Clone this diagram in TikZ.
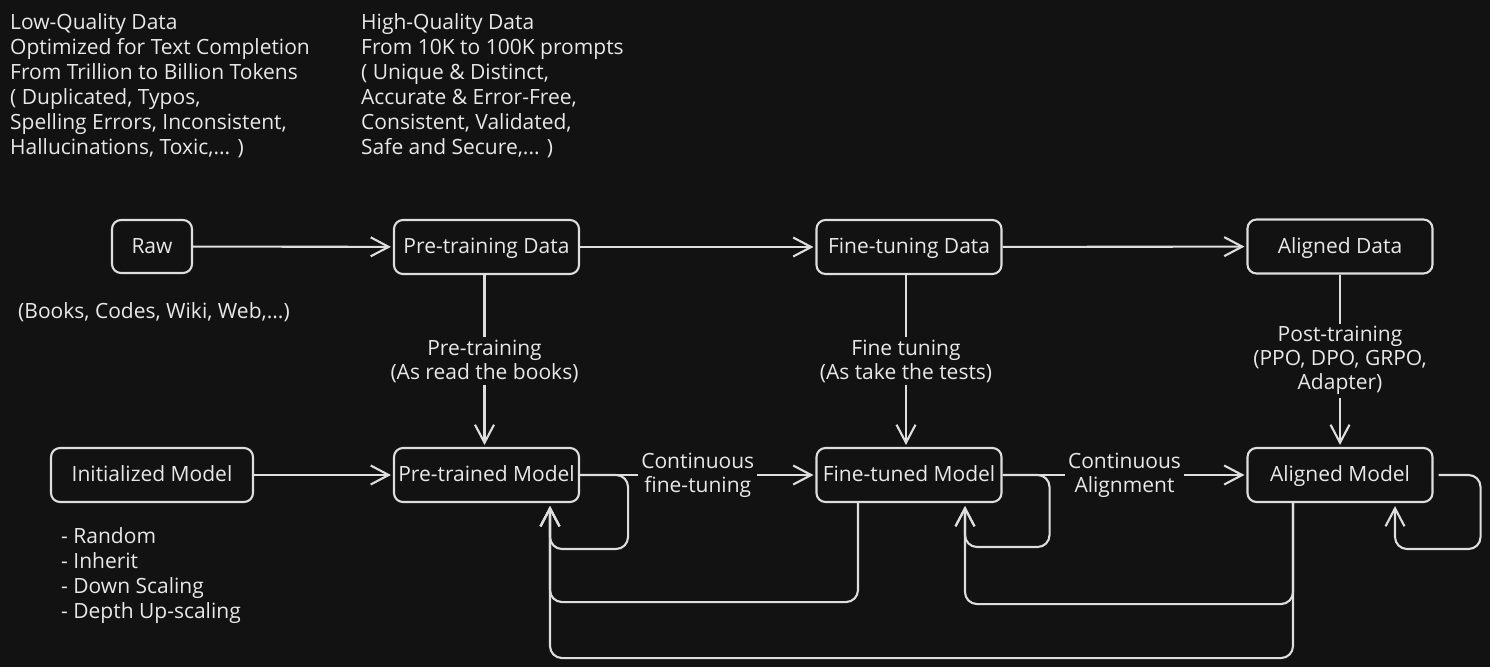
\documentclass[tikz,border=0pt]{standalone}
\usepackage{fontspec}
\setmainfont{Open Sans}
\usetikzlibrary{arrows.meta}
\definecolor{bg}{HTML}{121212}
\definecolor{ink}{HTML}{DEDEDE}
\definecolor{txt}{HTML}{E8E8E8}
\begin{document}
\begin{tikzpicture}[x=1pt,y=-1pt,
  every node/.style={text=txt, font=\fontsize{21}{25}\selectfont},
  box/.style={draw=ink, line width=2.1pt, rounded corners=9pt, minimum height=54pt, minimum width=185pt, inner sep=0pt, text height=15pt, text depth=2pt},
  tip/.style={-{Straight Barb[length=18pt,width=19pt,line width=2.1pt]}},
  link/.style={draw=ink, line width=2.1pt, tip, shorten >=2pt},
  wire/.style={draw=ink, line width=2.1pt, rounded corners=12pt, tip, shorten >=3pt},
  lbl/.style={fill=bg, align=center, inner sep=3pt, font=\fontsize{21}{24}\selectfont},
  note/.style={align=left, inner sep=0pt, anchor=north west}]
\fill[bg] (0,0) rectangle (1490,667);
\useasboundingbox (0,0) rectangle (1490,667);

% texts
\node[note] (lowq) at (10,13) {Low-Quality Data\\Optimized for Text Completion\\From Trillion to Billion Tokens\\( Duplicated, Typos,\\Spelling Errors, Inconsistent,\\Hallucinations, Toxic,... )};
\node[note] (highq) at (361,13) {High-Quality Data\\From 10K to 100K prompts\\( Unique \& Distinct,\\Accurate \& Error-Free,\\Consistent, Validated,\\Safe and Secure,... )};
\node[inner sep=0pt, anchor=base west] (src) at (18,318) {(Books, Codes, Wiki, Web,...)};
\node[note] (inits) at (61,527) {- Random\\- Inherit\\- Down Scaling\\- Depth Up-scaling};

% boxes
\node[box, minimum width=80pt, minimum height=53pt] (raw) at (152,246.5) {Raw};
\node[box] (ptd) at (486.5,247) {Pre-training Data};
\node[box] (ftd) at (909,247) {Fine-tuning Data};
\node[box] (ald) at (1340,246.5) {Aligned Data};
\node[box, minimum width=202pt] (init) at (152,475) {Initialized Model};
\node[box] (ptm) at (486.5,475) {Pre-trained Model};
\node[box] (ftm) at (909,475) {Fine-tuned Model};
\node[box] (alm) at (1340,475) {Aligned Model};

% loops (drawn first so labels overlay)
\draw[wire] (ptm.east) -- ++(48,0) -- ++(0,74) -| ([xshift=63.5pt]ptm.south);
\draw[wire] (ftm.east) -- ++(47,0) -- ++(0,72) -| ([xshift=56pt]ftm.south);
\draw[wire] ([xshift=5pt]alm.east) -- ++(42,0) -- ++(0,74) -| ([xshift=55pt]alm.south);
\draw[wire] ([xshift=-51pt]ftm.south) -- ++(0,99) -| ([xshift=63.5pt]ptm.south);
\draw[wire] ([xshift=-47pt]alm.south) -- ++(0,101) -| ([xshift=56pt]ftm.south);
\draw[wire] ([xshift=-47pt]alm.south) -- ++(0,155) -| ([xshift=63.5pt]ptm.south);

% main arrows
\draw[link] (raw) -- (ptd);
\draw[link] (ptd) -- (ftd);
\draw[link] (ftd) -- (ald);
\draw[link] (init) -- (ptm);
\draw[link] (ptm) -- node[lbl]{Continuous\\fine-tuning} (ftm);
\draw[link] (ftm) -- node[lbl]{Continuous\\Alignment} (alm);
\draw[link] ([xshift=-2pt]ptd.south) -- node[lbl]{Pre-training\\(As read the books)} ([xshift=-2pt]ptm.north);
\draw[link] ([xshift=-3pt]ftd.south) -- node[lbl]{Fine tuning\\(As take the tests)} ([xshift=-3pt]ftm.north);
\draw[link] (ald.south) -- node[lbl]{Post-training\\(PPO, DPO, GRPO,\\Adapter)} (alm.north);
\end{tikzpicture}
\end{document}
